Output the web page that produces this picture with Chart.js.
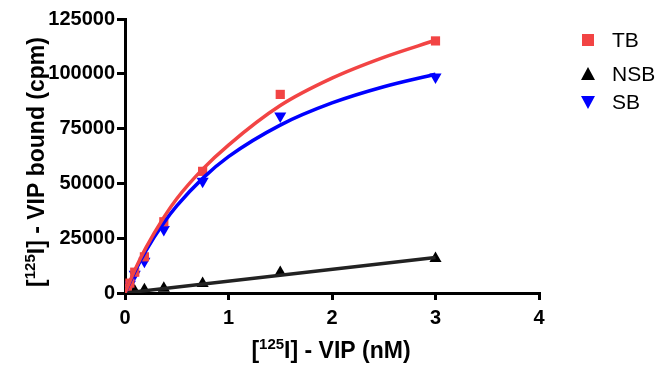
<!DOCTYPE html>
<html><head><meta charset="utf-8">
<script src="https://cdn.jsdelivr.net/npm/chart.js@4/dist/chart.umd.min.js"></script>
<style>html,body{margin:0;padding:0;background:#fff}#wrap{width:659px;height:369px}</style>
</head><body><div id="wrap"><canvas id="c" width="659" height="369"></canvas></div>
<script>
// Concentrations (nM) of measured points
const conc = [0.0117, 0.0234, 0.047, 0.094, 0.1875, 0.375, 0.75, 1.5, 3];
const tbVals  = [500, 2000, 4500, 9500, 16500, 32500, 55500, 90600, 115000];
const nsbVals = [100, 250, 500, 900, 1500, 2200, 4300, 9300, 15700];
const sbVals  = [300, 1500, 4000, 8500, 14500, 29000, 51000, 80700, 98500];
// Fitted curves
const curveX   = [0, 0.1, 0.2, 0.375, 0.5, 0.75, 1, 1.5, 2, 2.5, 3];
const tbCurve  = [0, 11000, 20500, 34500, 43000, 56500, 67500, 85500, 98000, 107500, 115300];
const sbCurve  = [0, 10200, 19100, 32000, 39700, 52300, 62200, 76600, 86700, 94100, 99800];
const nsbLineX = [0, 3];
const nsbLine  = [0, 16200];
const yTicks = [0, 25000, 50000, 75000, 100000, 125000];
const xTicks = [0, 1, 2, 3, 4];
const seriesNames = ['TB', 'NSB', 'SB'];

const RED = 'rgb(242,68,68)', BLUE = '#0000ff', BLACK = '#000';
const pts = (xs, ys) => xs.map((x, i) => ({x, y: ys[i]}));

const titlePlugin = {
  id: 'titles',
  afterDraw(chart) {
    const ctx = chart.ctx;
    ctx.save();
    ctx.fillStyle = '#000';
    ctx.textBaseline = 'alphabetic';
    function drawSup(parts, x, y, center) {
      const main = 'bold 23px "Liberation Sans", Arial, sans-serif';
      const sup = 'bold 15px "Liberation Sans", Arial, sans-serif';
      let w = 0;
      parts.forEach(p => { ctx.font = p[1] ? sup : main; w += ctx.measureText(p[0]).width; });
      let cx = center ? x - w / 2 : x;
      parts.forEach(p => {
        ctx.font = p[1] ? sup : main;
        ctx.textAlign = 'left';
        ctx.fillText(p[0], cx, p[1] ? y - 9 : y);
        cx += ctx.measureText(p[0]).width;
      });
    }
    drawSup([['[', false], ['125', true], ['I] - VIP (nM)', false]], 331, 358, true);
    ctx.translate(44, 162);
    ctx.rotate(-Math.PI / 2);
    drawSup([['[', false], ['125', true], ['I] - VIP bound (cpm)', false]], 0, 0, true);
    ctx.restore();

    // legend
    ctx.save();
    ctx.font = '21px "Liberation Sans", Arial, sans-serif';
    ctx.textBaseline = 'middle';
    ctx.textAlign = 'left';
    const lx = 588, tx = 612;
    const rows = [40, 74, 102];
    ctx.fillStyle = RED; ctx.fillRect(lx - 6, rows[0] - 6, 12, 12);
    ctx.fillStyle = BLACK; ctx.beginPath(); ctx.moveTo(lx, rows[1] - 7); ctx.lineTo(lx + 7, rows[1] + 6); ctx.lineTo(lx - 7, rows[1] + 6); ctx.closePath(); ctx.fill();
    ctx.fillStyle = BLUE; ctx.beginPath(); ctx.moveTo(lx, rows[2] + 7); ctx.lineTo(lx + 7, rows[2] - 6); ctx.lineTo(lx - 7, rows[2] - 6); ctx.closePath(); ctx.fill();
    ctx.fillStyle = '#000';
    seriesNames.forEach((n, i) => ctx.fillText(n, tx, rows[i] + 1));
    ctx.restore();
  }
};

new Chart(document.getElementById('c'), {
  type: 'scatter',
  data: {
    datasets: [
      {label: 'TB fit', data: pts(curveX, tbCurve), showLine: true, borderColor: RED, borderWidth: 3.5, pointRadius: 0, cubicInterpolationMode: 'monotone'},
      {label: 'SB fit', data: pts(curveX, sbCurve), showLine: true, borderColor: BLUE, borderWidth: 3.5, pointRadius: 0, cubicInterpolationMode: 'monotone'},
      {label: 'NSB fit', data: pts(nsbLineX, nsbLine), showLine: true, borderColor: '#222', borderWidth: 3.5, pointRadius: 0},
      {label: seriesNames[0], data: pts(conc, tbVals), pointStyle: 'rect', pointRadius: 6.5, backgroundColor: RED, borderColor: RED, borderWidth: 0},
      {label: seriesNames[1], data: pts(conc, nsbVals), pointStyle: 'triangle', pointRadius: 7, backgroundColor: BLACK, borderColor: BLACK, borderWidth: 0},
      {label: seriesNames[2], data: pts(conc, sbVals), pointStyle: 'triangle', rotation: 180, pointRadius: 7, backgroundColor: BLUE, borderColor: BLUE, borderWidth: 0}
    ]
  },
  options: {
    responsive: false,
    animation: false,
    layout: {padding: {top: 19, right: 120, left: 0, bottom: 0}},
    plugins: {legend: {display: false}, tooltip: {enabled: false}},
    scales: {
      x: {
        type: 'linear', min: 0, max: 4,
        afterBuildTicks: s => { s.ticks = xTicks.map(v => ({value: v})); },
        afterFit: s => { s.height = 76; },
        grid: {drawOnChartArea: false, drawTicks: true, tickLength: 7, color: '#000', lineWidth: 3},
        border: {display: true, color: '#000', width: 3},
        ticks: {color: '#000', padding: 6, maxRotation: 0, font: {family: '"Liberation Sans", Arial, sans-serif', size: 20, weight: 'bold'}}
      },
      y: {
        type: 'linear', min: 0, max: 125000,
        afterBuildTicks: s => { s.ticks = yTicks.map(v => ({value: v})); },
        afterFit: s => { s.width = 125; },
        grid: {drawOnChartArea: false, drawTicks: true, tickLength: 8, color: '#000', lineWidth: 3},
        border: {display: true, color: '#000', width: 3},
        ticks: {color: '#000', padding: 2, callback: v => String(v), font: {family: '"Liberation Sans", Arial, sans-serif', size: 20, weight: 'bold'}}
      }
    }
  },
  plugins: [titlePlugin]
});
</script></body></html>
